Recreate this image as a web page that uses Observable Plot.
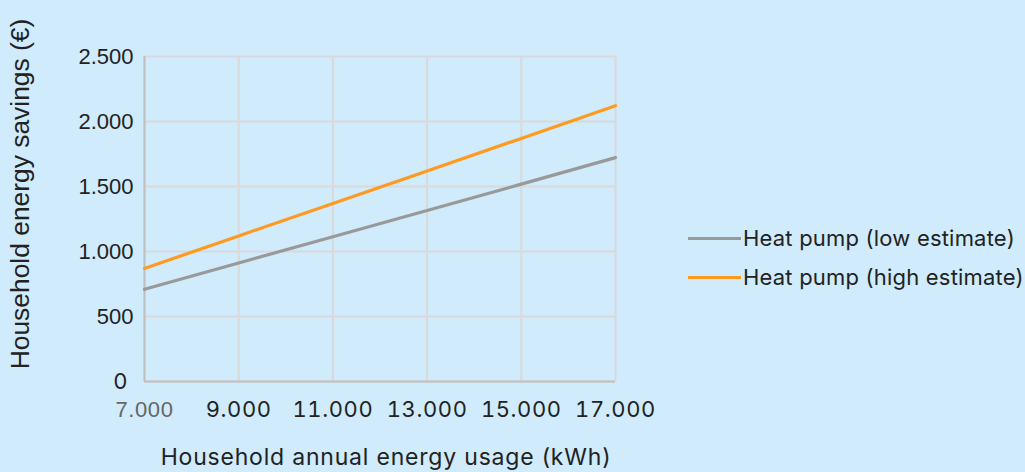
<!DOCTYPE html>
<html>
<head>
<meta charset="utf-8">
<script src="https://cdn.jsdelivr.net/npm/d3@7"></script>
<script src="https://cdn.jsdelivr.net/npm/@observablehq/plot@0.6"></script>
<style>
  html, body { margin: 0; padding: 0; background: #cfebfc; }
  #wrap { position: relative; width: 1025px; height: 472px; font-family: Inter, "Noto Sans", sans-serif; }
  .leg { position: absolute; left: 688px; display: flex; align-items: center; font-size: 22px; letter-spacing: 0.2px; color: #222; white-space: nowrap; }
  .leg .sw { width: 53px; height: 3px; margin-right: 2px; }
</style>
</head>
<body>
<div id="wrap"></div>
<script>
const usage = [7000, 9000, 11000, 13000, 15000, 17000];
const lowEstimate = [710, 912, 1114, 1316, 1518, 1722];
const highEstimate = [870, 1120, 1370, 1620, 1870, 2122];
const seriesNames = ["Heat pump (low estimate)", "Heat pump (high estimate)"];
const seriesColors = ["#999999", "#ff9a1f"];
const yTicks = [0, 500, 1000, 1500, 2000, 2500];
const xTitle = "Household annual energy usage (kWh)";
const yTitle = "Household energy savings (€)";

const fmt = v => d3.format(",")(v).replace(/,/g, ".");

const data = [];
usage.forEach((u, i) => {
  data.push({usage: u, value: lowEstimate[i], series: seriesNames[0]});
  data.push({usage: u, value: highEstimate[i], series: seriesNames[1]});
});

const chart = Plot.plot({
  width: 1025,
  height: 472,
  marginLeft: 144,
  marginRight: 410,
  marginTop: 56,
  marginBottom: 91,
  style: {background: "transparent", fontFamily: "Inter, 'Noto Sans', sans-serif", fontSize: "22px", color: "#222"},
  x: {domain: [7000, 17000], ticks: usage, tickFormat: fmt, label: null},
  y: {domain: [0, 2500], ticks: yTicks, tickFormat: fmt, label: null},
  color: {domain: seriesNames, range: seriesColors},
  marks: [
    Plot.gridX(usage, {stroke: "#d9d9d9", strokeOpacity: 1, strokeWidth: 2}),
    Plot.gridY(yTicks, {stroke: "#d9d9d9", strokeOpacity: 1, strokeWidth: 2}),
    Plot.ruleX([7000], {stroke: "#bfbfbf", strokeWidth: 2}),
    Plot.ruleY([0], {stroke: "#bfbfbf", strokeWidth: 2}),
    Plot.axisX(usage.filter(u => u !== 7000), {tickFormat: fmt, tickSize: 0, tickPadding: 20, fontSize: 22, fill: "#222"}),
    Plot.axisX([7000], {tickFormat: fmt, tickSize: 0, tickPadding: 20, fontSize: 22, fill: "#666", fontFamily: "'Liberation Sans', Arial, sans-serif"}),
    Plot.axisY(yTicks.filter(t => t !== 0), {tickFormat: fmt, tickSize: 0, tickPadding: 11, fontSize: 22, fill: "#222", fontFamily: "'Liberation Sans', Arial, sans-serif"}),
    Plot.axisY([0], {tickFormat: fmt, tickSize: 0, tickPadding: 17, fontSize: 22, fill: "#222"}),
    Plot.line(data, {x: "usage", y: "value", z: "series", stroke: "series", strokeWidth: 3.2})
  ]
});

const svg = d3.select(chart);
svg.selectAll("g[aria-label='x-axis tick label'] text").attr("letter-spacing", "0.6px");
svg.append("text")
  .attr("x", 386).attr("y", 459)
  .attr("text-anchor", "middle").attr("dominant-baseline", "middle")
  .attr("font-size", 23).attr("letter-spacing", "0.8px").attr("fill", "#222")
  .text(xTitle);
svg.append("text")
  .attr("transform", "translate(22,194) rotate(-90)")
  .attr("text-anchor", "middle").attr("dominant-baseline", "middle")
  .attr("font-family", "'Liberation Sans', Arial, sans-serif")
  .attr("font-size", 26.4).attr("fill", "#222")
  .text(yTitle);

const wrap = document.getElementById("wrap");
wrap.appendChild(chart);
const legendY = [238, 277];
seriesNames.forEach((name, i) => {
  const d = document.createElement("div");
  d.className = "leg";
  d.style.top = (legendY[i] - 14) + "px";
  d.style.height = "28px";
  d.innerHTML = `<span class="sw" style="background:${seriesColors[i]}"></span><span>${name}</span>`;
  wrap.appendChild(d);
});
chart.style.position = "absolute";
chart.style.left = "0";
chart.style.top = "0";
</script>
</body>
</html>
